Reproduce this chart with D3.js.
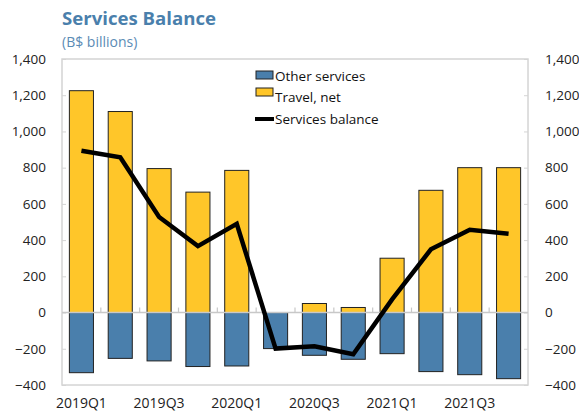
<!DOCTYPE html>
<html><head><meta charset="utf-8">
<script src="https://cdn.jsdelivr.net/npm/d3@7"></script>
<style>
body{margin:0;background:#fff;}
svg{display:block;font-family:"Open Sans","Noto Sans",sans-serif;}
</style></head>
<body><svg id="chart" width="579" height="414"></svg>
<script>
const quarters = ["2019Q1","2019Q2","2019Q3","2019Q4","2020Q1","2020Q2","2020Q3","2020Q4","2021Q1","2021Q2","2021Q3","2021Q4"];
const travelNet = [1225,1110,795,665,785,0,50,28,300,675,800,800];
const otherServices = [-332,-253,-267,-298,-295,-199,-236,-258,-227,-326,-343,-365];
const servicesBalance = [893,857,528,367,490,-199,-186,-230,73,349,457,435];
const yTicks = [-400,-200,0,200,400,600,800,1000,1200,1400];
const xTickLabels = ["2019Q1","2019Q3","2020Q1","2020Q3","2021Q1","2021Q3"];

(function(){
const svg = d3.select("#chart");
const pL = 62, pR = 528, pT = 59, pB = 385;
const x = d3.scaleBand().domain(quarters).range([pL,pR]).paddingInner(0.38).paddingOuter(0.19);
const xs = d3.scaleBand().domain(quarters).range([pL,pR]);
const y = d3.scaleLinear().domain([-400,1400]).range([pB,pT]);
const blue = "#4a7fac", yellow = "#ffc629", titleCol = "#4a7fac";

// title
svg.append("text").attr("x",62).attr("y",25).attr("fill",titleCol)
  .attr("font-size",18.6).attr("font-weight",700).text("Services Balance");
svg.append("text").attr("x",62).attr("y",47).attr("fill","#5b8bb5")
  .attr("font-size",14).text("(B$ billions)");

// frame
svg.append("rect").attr("x",pL).attr("y",pT).attr("width",pR-pL).attr("height",pB-pT)
  .attr("fill","none").attr("stroke","#d4d4d4").attr("stroke-width",1.5);

// y axes
const yl = svg.append("g").attr("transform",`translate(${pL},0)`)
  .call(d3.axisRight(y).tickValues(yTicks).tickSize(4).tickFormat(()=>""));
yl.select(".domain").remove();
yl.selectAll("line").attr("stroke","#d4d4d4").attr("stroke-width",1);
const yr = svg.append("g").attr("transform",`translate(${pR},0)`)
  .call(d3.axisLeft(y).tickValues(yTicks).tickSize(4).tickFormat(()=>""));
yr.select(".domain").remove();
yr.selectAll("line").attr("stroke","#d4d4d4").attr("stroke-width",1);

const fmt = d3.format(",");
svg.append("g").selectAll("text").data(yTicks).join("text")
  .attr("x",46).attr("y",d=>y(d)).attr("dy","0.35em").attr("text-anchor","end")
  .attr("font-size",13.5).attr("fill","#222").text(d=>fmt(d));
svg.append("g").selectAll("text").data(yTicks).join("text")
  .attr("x",545).attr("y",d=>y(d)).attr("dy","0.35em").attr("text-anchor","start")
  .attr("font-size",13.5).attr("fill","#222").text(d=>fmt(d));

// bars
svg.append("g").selectAll("rect").data(quarters).join("rect")
  .attr("x",d=>x(d)).attr("width",x.bandwidth())
  .attr("y",(d,i)=>y(Math.max(0,otherServices[i])))
  .attr("height",(d,i)=>Math.abs(y(otherServices[i])-y(0)))
  .attr("fill",blue).attr("stroke","#222").attr("stroke-width",1);
svg.append("g").selectAll("rect").data(quarters.filter((d,i)=>travelNet[i]>0)).join("rect")
  .attr("x",d=>x(d)).attr("width",x.bandwidth())
  .attr("y",d=>y(travelNet[quarters.indexOf(d)]))
  .attr("height",d=>y(0)-y(travelNet[quarters.indexOf(d)]))
  .attr("fill",yellow).attr("stroke","#222").attr("stroke-width",1);

// zero line + x ticks
svg.append("line").attr("x1",pL).attr("x2",pR).attr("y1",y(0)).attr("y2",y(0))
  .attr("stroke","#c8c8c8").attr("stroke-width",1.5);
svg.append("g").selectAll("line").data(quarters.slice(1)).join("line")
  .attr("x1",d=>xs(d)).attr("x2",d=>xs(d)).attr("y1",y(0)).attr("y2",y(0)-5)
  .attr("stroke","#c8c8c8").attr("stroke-width",1.2);

// line
const line = d3.line().x((d,i)=>x(quarters[i])+x.bandwidth()/2).y(d=>y(d));
svg.append("path").datum(servicesBalance).attr("d",line)
  .attr("fill","none").attr("stroke","#000").attr("stroke-width",4.5).attr("stroke-linejoin","miter");

// x labels
svg.append("g").selectAll("text").data(xTickLabels).join("text")
  .attr("x",d=>x(d)+x.bandwidth()/2).attr("y",408).attr("text-anchor","middle")
  .attr("font-size",14).attr("fill","#222").text(d=>d);

// legend
const lg = svg.append("g");
lg.append("rect").attr("x",256).attr("y",71).attr("width",17).attr("height",8).attr("fill",blue).attr("stroke","#222");
lg.append("rect").attr("x",256).attr("y",88).attr("width",17).attr("height",8).attr("fill",yellow).attr("stroke","#222");
lg.append("line").attr("x1",255).attr("x2",274).attr("y1",119).attr("y2",119).attr("stroke","#000").attr("stroke-width",4);
const lt = [["Other services",76],["Travel, net",97.5],["Services balance",119]];
lg.selectAll("text").data(lt).join("text").attr("x",275).attr("y",d=>d[1]).attr("dy","0.35em")
  .attr("font-size",13.5).attr("fill","#111").text(d=>d[0]);
})();
</script></body></html>
